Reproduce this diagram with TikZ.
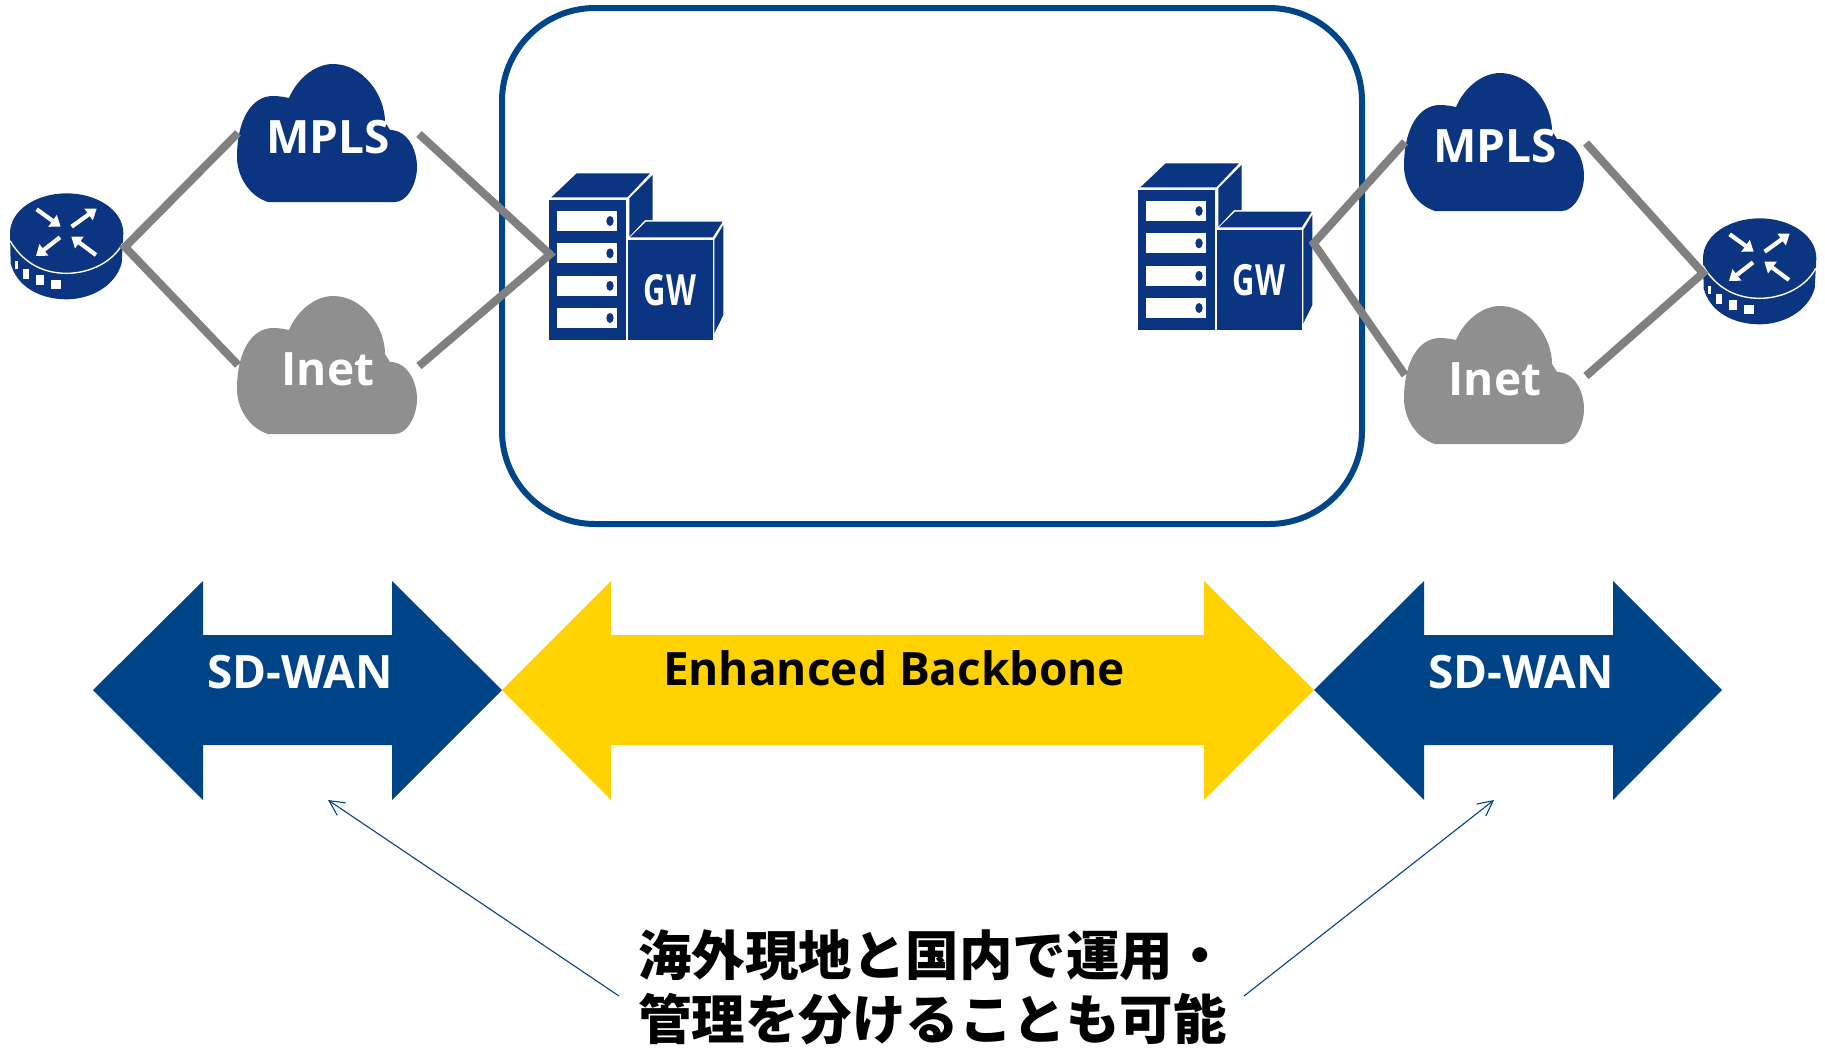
\documentclass[tikz,border=0pt]{standalone}
\usepackage{fontspec}
\setmainfont{Noto Sans}
\newfontfamily\cjk{Noto Sans CJK JP}
\newfontfamily\lab{Open Sans}
\usetikzlibrary{arrows.meta}
\definecolor{navy}{HTML}{0B3580}
\definecolor{cloudgray}{HTML}{8F8F8F}
\definecolor{linkgray}{HTML}{808080}
\definecolor{bandblue}{HTML}{004488}
\definecolor{bandyellow}{HTML}{FFD200}
\definecolor{framecol}{HTML}{004588}
\tikzset{
  link/.style={draw=linkgray,line width=8pt,line join=miter},
  cloudlabel/.style={text=white,font=\lab\bfseries\fontsize{46}{46}\selectfont,inner sep=0pt},
  bandlabel/.style={font=\lab\bfseries\fontsize{46}{46}\selectfont,inner sep=0pt},
  callout/.style={draw=framecol,line width=1.1pt,-{Straight Barb[length=15pt,width=15pt,line width=1.1pt]}},
  whitearrow/.style={draw=white,line width=4.2pt,-{Triangle[length=10pt,width=14pt]}},
  pics/cloud/.style args={#1/#2}{code={
    \fill[#1] (31,138) .. controls (12,132) and (0,112) .. (0,93)
      .. controls (0,55) and (15,32) .. (36,32)
      .. controls (42,32) and (47,33) .. (52,34)
      .. controls (60,15) and (78,0) .. (96,0)
      .. controls (125,0) and (148,30) .. (148,58)
      -- (153,66) .. controls (170,66) and (180,85) .. (180,103)
      .. controls (180,120) and (170,138) .. (158,138) -- cycle;
    \coordinate (-w) at (1,69);
    \coordinate (-e) at (182,70);
    \node[cloudlabel] (-t) at (91,73) {#2};
  }},
  pics/router/.style={code={
    \begin{scope}[scale=0.33333]
    \fill[navy] (30,550) .. controls (30,480) and (110,430) .. (200,430)
      .. controls (290,430) and (370,480) .. (370,550) -- (365,640)
      .. controls (345,710) and (270,748) .. (200,748)
      .. controls (120,748) and (50,710) .. (32,640) -- cycle;
    \draw[white,line width=1.4pt] (30,572) .. controls (70,640) and (130,670) .. (200,670)
      .. controls (270,670) and (340,635) .. (368,580);
    \fill[white] (152,690) rectangle (182,718);
    \fill[white] (108,676) rectangle (133,706);
    \fill[white] (70,656) rectangle (88,688);
    \fill[white] (44,632) rectangle (54,658);
    \draw[whitearrow] (110,478) -- (182,530);
    \draw[whitearrow] (215,530) -- (290,476);
    \draw[whitearrow] (180,562) -- (108,618);
    \draw[whitearrow] (288,615) -- (214,560);
    \end{scope}
  }},
  pics/gw/.style={code={
    \begin{scope}[scale=0.33333]
    \fill[navy] (58,120) rectangle (288,540);
    \fill[navy] (64,112) -- (140,40) -- (360,40) -- (292,112) -- cycle;
    \fill[navy] (298,115) -- (368,45) -- (368,180) -- (345,180) -- (298,230) -- cycle;
    \fill[navy] (293,240) rectangle (548,540);
    \fill[navy] (300,232) -- (348,185) -- (578,185) -- (548,232) -- cycle;
    \fill[navy] (553,240) -- (580,195) -- (580,465) -- (553,520) -- cycle;
    \foreach \ya/\yb in {152/214,250/310,347/408,445/503}{
      \fill[white] (80,\ya) rectangle (262,\yb);
      \fill[navy] (240,{(\ya+\yb)/2}) ellipse (11 and 15);
    }
    \coordinate (-w) at (60,283);
    \coordinate (-e) at (584,280);
    \node[text=white,inner sep=0pt,xscale=0.72,font=\lab\bfseries\fontsize{43}{43}\selectfont] (-t) at (420,390) {GW};
    \end{scope}
  }},
}
\newcommand{\dblarrow}[5]{%
  \fill[#1] (#2,690) -- (#3,581) -- (#3,635) -- (#4,635) -- (#4,581) -- (#5,690)
    -- (#4,800) -- (#4,745) -- (#3,745) -- (#3,800) -- cycle;}
\begin{document}
\begin{tikzpicture}[x=1pt,y=-1pt]
\useasboundingbox (0,0) rectangle (1825,1047);
\fill[white] (0,0) rectangle (1825,1047);
\node[draw=framecol,line width=6pt,rounded corners=93pt,minimum width=860pt,minimum height=516pt,inner sep=0pt] (frame) at (932,266) {};

\pic (rl) at (0,50) {router};
\pic (rr) at (1693,75) {router};
\coordinate (rl-e) at (125,247);
\coordinate (rr-w) at (1703,273);
\pic (ml) at (237,64) {cloud={navy/MPLS}};
\pic (il) at (237,296) {cloud={cloudgray/Inet}};
\pic (mr) at (1404,73) {cloud={navy/MPLS}};
\pic (ir) at (1404,306) {cloud={cloudgray/Inet}};
\pic (gl) at (530,160) {gw};
\pic (gr) at (1119,150) {gw};

\draw[link] (ml-w) -- (rl-e) -- (il-w);
\draw[link] (ml-e) -- (gl-w) -- (il-e);
\draw[link] (mr-w) -- (gr-e) -- (ir-w);
\draw[link] (mr-e) -- (rr-w) -- (ir-e);

\dblarrow{bandblue}{93}{203}{392}{502}
\dblarrow{bandyellow}{502}{611}{1204}{1314}
\dblarrow{bandblue}{1314}{1424}{1613}{1722}
\node[bandlabel,text=white] (sl) at (300,672) {SD-WAN};
\node[bandlabel,text=black] (eb) at (894,668) {Enhanced Backbone};
\node[bandlabel,text=white] (sr) at (1521,672) {SD-WAN};

\node[anchor=west,inner sep=0pt,font=\cjk\bfseries\fontsize{53.5}{53.5}\selectfont] (n1) at (638,955) {海外現地と国内で運用・};
\node[anchor=west,inner sep=0pt,font=\cjk\bfseries\fontsize{53.5}{53.5}\selectfont] (n2) at (638,1019) {管理を分けることも可能};
\coordinate (cl) at (619,996);
\coordinate (cr) at (1244,996);
\coordinate (tl) at (328,800);
\coordinate (tr) at (1494,800);
\draw[callout] (cl) -- (tl);
\draw[callout] (cr) -- (tr);
\end{tikzpicture}
\end{document}
